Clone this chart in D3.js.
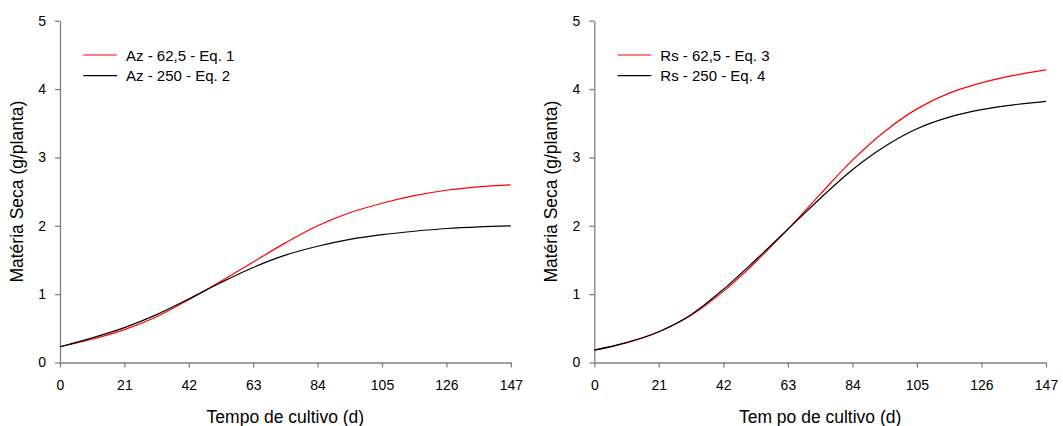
<!DOCTYPE html>
<html>
<head>
<meta charset="utf-8">
<script src="https://cdn.jsdelivr.net/npm/d3@7/dist/d3.min.js"></script>
<style>
  html, body { margin: 0; padding: 0; background: #fff; }
  svg { display: block; font-family: "Liberation Sans", Arial, sans-serif; }
</style>
</head>
<body>
<svg id="chart" width="1063" height="426"></svg>
<script>
// Days of cultivation at which the fitted curves are sampled
const days = [0, 10.5, 21, 31.5, 42, 52.5, 63, 73.5, 84, 94.5, 105, 115.5, 126, 136.5, 147];

// Dry matter (g/plant), Az panel
const azEq1 = [0.23, 0.34, 0.48, 0.67, 0.92, 1.19, 1.47, 1.75, 2.00, 2.19, 2.33, 2.44, 2.52, 2.57, 2.60];
const azEq2 = [0.23, 0.36, 0.51, 0.70, 0.93, 1.17, 1.39, 1.57, 1.70, 1.80, 1.87, 1.92, 1.96, 1.985, 2.00];

// Dry matter (g/plant), Rs panel
const rsEq3 = [0.18, 0.29, 0.45, 0.69, 1.04, 1.47, 1.95, 2.46, 2.96, 3.38, 3.71, 3.94, 4.09, 4.20, 4.28];
const rsEq4 = [0.18, 0.29, 0.45, 0.70, 1.07, 1.50, 1.95, 2.40, 2.82, 3.16, 3.42, 3.59, 3.70, 3.77, 3.82];

// Tick values
const xTicks = [0, 21, 42, 63, 84, 105, 126, 147];
const yTicks = [0, 1, 2, 3, 4, 5];

const axisColor = "#808080";

const panels = [
  {
    left: 60, right: 510.8, xTitle: "Tempo de cultivo (d)",
    series: [
      { name: "Az - 62,5 - Eq. 1", values: azEq1, color: "#ff0000" },
      { name: "Az - 250 - Eq. 2", values: azEq2, color: "#000000" }
    ]
  },
  {
    left: 594.3, right: 1046, xTitle: "Tem po de cultivo (d)",
    series: [
      { name: "Rs - 62,5 - Eq. 3", values: rsEq3, color: "#ff0000" },
      { name: "Rs - 250 - Eq. 4", values: rsEq4, color: "#000000" }
    ]
  }
];

const plotTop = 20.7, plotBottom = 362.5;
const svg = d3.select("#chart");

panels.forEach(p => {
  const x = d3.scaleLinear().domain([0, 147]).range([p.left, p.right]);
  const y = d3.scaleLinear().domain([0, 5]).range([plotBottom, plotTop]);
  const g = svg.append("g");

  // x axis
  const xAxis = g.append("g")
    .attr("transform", `translate(0,${plotBottom})`)
    .call(d3.axisBottom(x).tickValues(xTicks).tickFormat(d3.format("d"))
      .tickSize(5).tickSizeOuter(0).tickPadding(13));
  // y axis
  const yAxis = g.append("g")
    .attr("transform", `translate(${p.left},0)`)
    .call(d3.axisLeft(y).tickValues(yTicks).tickFormat(d3.format("d"))
      .tickSize(5).tickSizeOuter(0).tickPadding(9));

  [xAxis, yAxis].forEach(a => {
    a.select(".domain").attr("stroke", axisColor).attr("stroke-width", 1.3);
    a.selectAll(".tick line").attr("stroke", axisColor).attr("stroke-width", 1.3);
    a.selectAll(".tick text").attr("fill", "#000").style("font-size", "14px")
      .style("font-family", '"Liberation Sans", Arial, sans-serif');
  });

  // curves
  const line = d3.line()
    .x((d, i) => x(days[i]))
    .y(d => y(d))
    .curve(d3.curveCatmullRom.alpha(0.5));

  p.series.forEach(s => {
    g.append("path")
      .datum(s.values)
      .attr("fill", "none")
      .attr("stroke", s.color)
      .attr("stroke-width", 1.2)
      .attr("d", line);
  });

  // legend
  p.series.forEach((s, i) => {
    const ly = 55 + i * 20.7;
    g.append("line")
      .attr("x1", p.left + 23.3).attr("x2", p.left + 57)
      .attr("y1", ly).attr("y2", ly)
      .attr("stroke", s.color).attr("stroke-width", 1.2);
    g.append("text")
      .attr("x", p.left + 66).attr("y", ly + 5.5)
      .style("font-size", "15px")
      .text(s.name);
  });

  // axis titles
  g.append("text")
    .attr("x", (p.left + p.right) / 2).attr("y", 423)
    .attr("text-anchor", "middle")
    .style("font-size", "17.5px")
    .text(p.xTitle);
  g.append("text")
    .attr("transform", `translate(${p.left - 37},${(plotTop + plotBottom) / 2}) rotate(-90)`)
    .attr("text-anchor", "middle")
    .style("font-size", "17.5px")
    .text("Matéria Seca (g/planta)");
});
</script>
</body>
</html>
